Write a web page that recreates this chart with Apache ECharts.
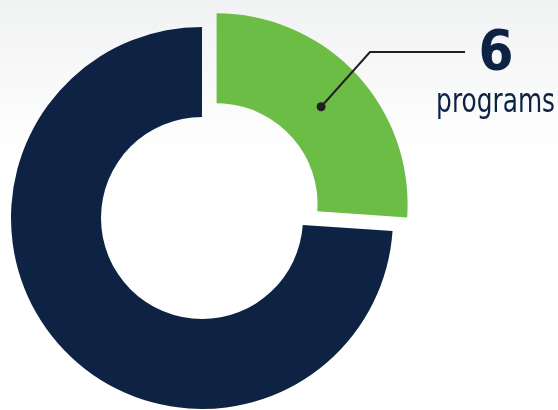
<!DOCTYPE html>
<html>
<head>
<meta charset="utf-8">
<script src="https://cdn.jsdelivr.net/npm/echarts@6/dist/echarts.min.js"></script>
<style>
html,body{margin:0;padding:0;background:#fff;}
#chart{width:558px;height:410px;}
</style>
</head>
<body>
<div id="chart"></div>
<script>
const categories = ['programs', 'other'];
const values = [6, 17];
const colors = ['#6cbd45', '#0e2343'];
const labelNumber = '6';
const labelText = 'programs';

const chart = echarts.init(document.getElementById('chart'));
const cx = 202, cy = 218, rIn = 101, rOut = 191, offset = 20;
const total = values.reduce((a, b) => a + b, 0);
const midDeg = 90 - (values[0] / total) * 360 / 2;
const mid = midDeg * Math.PI / 180;
const dotR = offset + 143;
const dot = [cx + dotR * Math.cos(mid), cy - dotR * Math.sin(mid)];
const elbow = [370, 52];
const lineEnd = [465, 52];

chart.setOption({
  backgroundColor: {
    type: 'linear', x: 0, y: 0, x2: 0, y2: 1,
    colorStops: [
      {offset: 0, color: '#f1f2f3'},
      {offset: 0.38, color: '#ffffff'},
      {offset: 1, color: '#ffffff'}
    ]
  },
  animation: false,
  series: [{
    type: 'pie',
    center: [cx, cy],
    radius: [rIn, rOut],
    startAngle: 90,
    clockwise: true,
    selectedMode: 'single',
    selectedOffset: offset,
    label: {show: false},
    labelLine: {show: false},
    emphasis: {disabled: true},
    data: categories.map((c, i) => ({
      name: c, value: values[i], selected: i === 0,
      itemStyle: {color: colors[i]}
    }))
  }],
  graphic: [
    {type: 'polyline', shape: {points: [dot, elbow, lineEnd]},
     style: {stroke: '#231f20', lineWidth: 2, fill: null}, z: 10},
    {type: 'circle', shape: {cx: dot[0], cy: dot[1], r: 4.5},
     style: {fill: '#231f20'}, z: 10},
    {type: 'text', x: 496, y: 26, scaleX: 0.9, z: 10,
     style: {text: labelNumber, font: 'bold 56px "DejaVu Sans", sans-serif',
             fill: '#0e2343', align: 'center', verticalAlign: 'top'}},
    {type: 'text', x: 555, y: 86, scaleX: 0.73, z: 10,
     style: {text: labelText, font: '34px "DejaVu Sans", sans-serif',
             fill: '#0e2343', align: 'right', verticalAlign: 'top'}}
  ]
});
</script>
</body>
</html>
